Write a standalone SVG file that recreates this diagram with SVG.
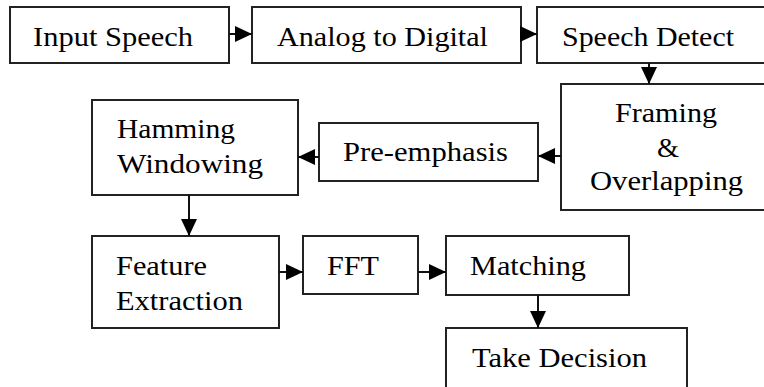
<svg xmlns="http://www.w3.org/2000/svg" width="764" height="387" viewBox="0 0 764 387">
<style>
  .box { fill: #ffffff; stroke: #222222; stroke-width: 2; }
  .conn { stroke: #111111; stroke-width: 2; fill: none; marker-end: url(#ah); }
</style>
<defs>
  <marker id="ah" markerUnits="userSpaceOnUse" markerWidth="18" markerHeight="16" refX="17" refY="8" orient="auto">
    <polygon points="0,0 17,8 0,16" fill="#000000"/>
  </marker>
</defs>
<rect width="764" height="387" fill="#ffffff"/>

<g font-family="Liberation Serif" font-size="27" fill="#000000">
<g id="input-speech">
  <rect class="box" x="10" y="7" width="219" height="56"/>
  <text x="33" y="46" textLength="160" lengthAdjust="spacingAndGlyphs">Input Speech</text>
</g>
<g id="analog-to-digital">
  <rect class="box" x="252" y="7" width="269" height="56"/>
  <text x="277" y="46" textLength="211" lengthAdjust="spacingAndGlyphs">Analog to Digital</text>
</g>
<g id="speech-detect">
  <rect class="box" x="537" y="7" width="240" height="56"/>
  <text x="562" y="46" textLength="172" lengthAdjust="spacingAndGlyphs">Speech Detect</text>
</g>
<g id="framing">
  <rect class="box" x="561" y="84" width="220" height="126"/>
  <text x="615" y="122" textLength="102" lengthAdjust="spacingAndGlyphs">Framing</text>
  <text x="657" y="157" textLength="22" lengthAdjust="spacingAndGlyphs">&amp;</text>
  <text x="590" y="190" textLength="153" lengthAdjust="spacingAndGlyphs">Overlapping</text>
</g>
<g id="pre-emphasis">
  <rect class="box" x="319" y="123" width="219" height="58"/>
  <text x="343" y="161" textLength="165" lengthAdjust="spacingAndGlyphs">Pre-emphasis</text>
</g>
<g id="hamming">
  <rect class="box" x="92" y="100" width="206" height="95"/>
  <text x="117" y="138" textLength="118" lengthAdjust="spacingAndGlyphs">Hamming</text>
  <text x="117" y="173" textLength="146" lengthAdjust="spacingAndGlyphs">Windowing</text>
</g>
<g id="feature-extraction">
  <rect class="box" x="92" y="236" width="187" height="92"/>
  <text x="116" y="275" textLength="91" lengthAdjust="spacingAndGlyphs">Feature</text>
  <text x="116" y="310" textLength="127" lengthAdjust="spacingAndGlyphs">Extraction</text>
</g>
<g id="fft">
  <rect class="box" x="303" y="236" width="115" height="58"/>
  <text x="327" y="275" textLength="52" lengthAdjust="spacingAndGlyphs">FFT</text>
</g>
<g id="matching">
  <rect class="box" x="446" y="236" width="183" height="59"/>
  <text x="470" y="275" textLength="116" lengthAdjust="spacingAndGlyphs">Matching</text>
</g>
<g id="take-decision">
  <rect class="box" x="446" y="328" width="241" height="80"/>
  <text x="472" y="367" textLength="175" lengthAdjust="spacingAndGlyphs">Take Decision</text>
</g>
</g>

<g id="connectors">
  <line class="conn" x1="229" y1="34" x2="252" y2="34"/>
  <line class="conn" x1="521" y1="34" x2="537" y2="34"/>
  <line class="conn" x1="649" y1="63" x2="649" y2="84"/>
  <line class="conn" x1="561" y1="156" x2="538" y2="156"/>
  <line class="conn" x1="319" y1="157" x2="298" y2="157"/>
  <line class="conn" x1="189" y1="195" x2="189" y2="236"/>
  <line class="conn" x1="279" y1="272" x2="303" y2="272"/>
  <line class="conn" x1="418" y1="272" x2="446" y2="272"/>
  <line class="conn" x1="538" y1="295" x2="538" y2="328"/>
</g>
</svg>
